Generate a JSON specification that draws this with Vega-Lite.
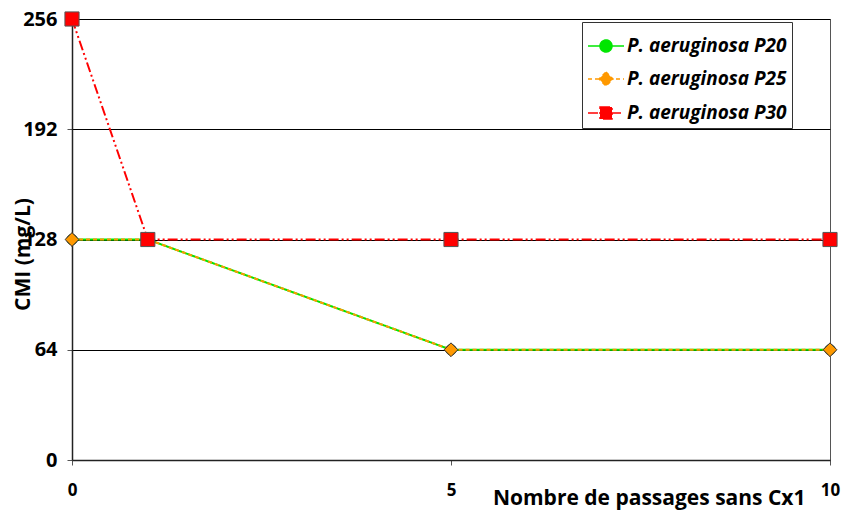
{
  "$schema": "https://vega.github.io/schema/vega-lite/v6.json",
  "autosize": "none",
  "width": 758,
  "height": 441,
  "padding": {"left": 72, "top": 19, "right": 15, "bottom": 52},
  "background": "white",
  "config": {
    "view": {"stroke": "#555", "strokeWidth": 1},
    "font": "Open Sans"
  },
  "data": {
    "values": [
      {"series": "P. aeruginosa P20", "x": 0, "y": 128},
      {"series": "P. aeruginosa P20", "x": 1, "y": 128},
      {"series": "P. aeruginosa P20", "x": 5, "y": 64},
      {"series": "P. aeruginosa P20", "x": 10, "y": 64},
      {"series": "P. aeruginosa P25", "x": 0, "y": 128},
      {"series": "P. aeruginosa P25", "x": 1, "y": 128},
      {"series": "P. aeruginosa P25", "x": 5, "y": 64},
      {"series": "P. aeruginosa P25", "x": 10, "y": 64},
      {"series": "P. aeruginosa P30", "x": 0, "y": 256},
      {"series": "P. aeruginosa P30", "x": 1, "y": 128},
      {"series": "P. aeruginosa P30", "x": 5, "y": 128},
      {"series": "P. aeruginosa P30", "x": 10, "y": 128}
    ]
  },
  "encoding": {
    "x": {
      "field": "x", "type": "quantitative",
      "scale": {"domain": [0, 10], "nice": false, "zero": false},
      "axis": {
        "values": [0, 5, 10], "grid": false,
        "domainColor": "#222", "domainWidth": 1.5,
        "tickColor": "#555", "tickSize": 5,
        "labelFont": "Open Sans", "labelFontWeight": "bold", "labelFontSize": 17, "labelColor": "black",
        "labelPadding": 17, "labelFlush": false,
        "title": "Nombre de passages sans Cx1",
        "titleFont": "Open Sans", "titleFontWeight": "bold", "titleFontSize": 21, "titleColor": "black",
        "titleX": 733, "titleY": 38, "titleAlign": "right", "titleBaseline": "middle", "titleAnchor": null
      }
    },
    "y": {
      "field": "y", "type": "quantitative",
      "scale": {"domain": [0, 256], "nice": false},
      "axis": {
        "values": [0, 64, 128, 192, 256],
        "grid": true, "gridColor": "black", "gridWidth": 1, "gridOpacity": 1,
        "domainColor": "#222", "domainWidth": 1.5,
        "tickColor": "#555", "tickSize": 5,
        "labelFont": "Open Sans", "labelFontWeight": "bold", "labelFontSize": 20, "labelColor": "black",
        "labelPadding": 10, "labelFlush": false,
        "title": "CMI (mg/L)",
        "titleFont": "Open Sans", "titleFontWeight": "bold", "titleFontSize": 21, "titleColor": "black",
        "titleX": -49, "titleY": 235, "titleAngle": -90, "titleAlign": "center", "titleBaseline": "middle"
      }
    }
  },
  "layer": [
    {
      "mark": {"type": "line", "strokeWidth": 2},
      "encoding": {
        "color": {
          "field": "series", "type": "nominal",
          "scale": {"domain": ["P. aeruginosa P20", "P. aeruginosa P25", "P. aeruginosa P30"], "range": ["#00e600", "#ff9900", "#ff0000"]},
          "legend": {
            "title": null,
            "orient": "none", "legendX": 510, "legendY": 3,
            "strokeColor": "#333", "fillColor": "white",
            "padding": 5,
            "symbolSize": 1296, "symbolStrokeWidth": 1.5,
            "labelFont": "Open Sans", "labelFontSize": 19, "labelFontWeight": "bold", "labelFontStyle": "italic", "labelColor": "black",
            "labelOffset": 2, "rowPadding": 4,
            "encode": {
              "symbols": {
                "update": {
                  "shape": {"signal": "datum.value === 'P. aeruginosa P20' ? 'M-1,0H1M0.333,0A0.333,0.333 0 1,1 -0.333,0A0.333,0.333 0 1,1 0.333,0Z' : datum.value === 'P. aeruginosa P25' ? 'M-1,0H1M0,-0.39L0.39,0L0,0.39L-0.39,0Z' : 'M-1,0H1M-0.333,-0.333H0.333V0.333H-0.333Z'"},
                  "strokeDash": {"signal": "datum.value === 'P. aeruginosa P20' ? [] : datum.value === 'P. aeruginosa P25' ? [4,3] : [10,3,2,3,2,3]"},
                  "fill": {"signal": "datum.value === 'P. aeruginosa P20' ? '#00e600' : datum.value === 'P. aeruginosa P25' ? '#ff9900' : '#ff0000'"},
                  "stroke": {"signal": "datum.value === 'P. aeruginosa P20' ? '#00e600' : datum.value === 'P. aeruginosa P25' ? '#ff9900' : '#ff0000'"},
                  "size": {"value": 1296},
                  "opacity": {"value": 1}
                }
              }
            }
          }
        },
        "strokeDash": {
          "field": "series", "type": "nominal",
          "scale": {"domain": ["P. aeruginosa P20", "P. aeruginosa P25", "P. aeruginosa P30"], "range": [[1, 0], [4, 3], [10, 3, 2, 3, 2, 3]]},
          "legend": null
        }
      }
    },
    {
      "transform": [{"filter": "datum.series === 'P. aeruginosa P20'"}],
      "mark": {"type": "point", "shape": "circle", "filled": true, "opacity": 1, "stroke": "#444", "strokeWidth": 1, "size": 110, "fill": "#00e600"},
      "encoding": {}
    },
    {
      "transform": [{"filter": "datum.series === 'P. aeruginosa P25'"}],
      "mark": {"type": "point", "shape": "diamond", "filled": true, "opacity": 1, "stroke": "#333", "strokeWidth": 1, "size": 190, "fill": "#ff9900"},
      "encoding": {}
    },
    {
      "transform": [{"filter": "datum.series === 'P. aeruginosa P30'"}],
      "mark": {"type": "point", "shape": "square", "filled": true, "opacity": 1, "stroke": "#555", "strokeWidth": 1, "size": 200, "fill": "#ff0000"},
      "encoding": {}
    }
  ]
}
